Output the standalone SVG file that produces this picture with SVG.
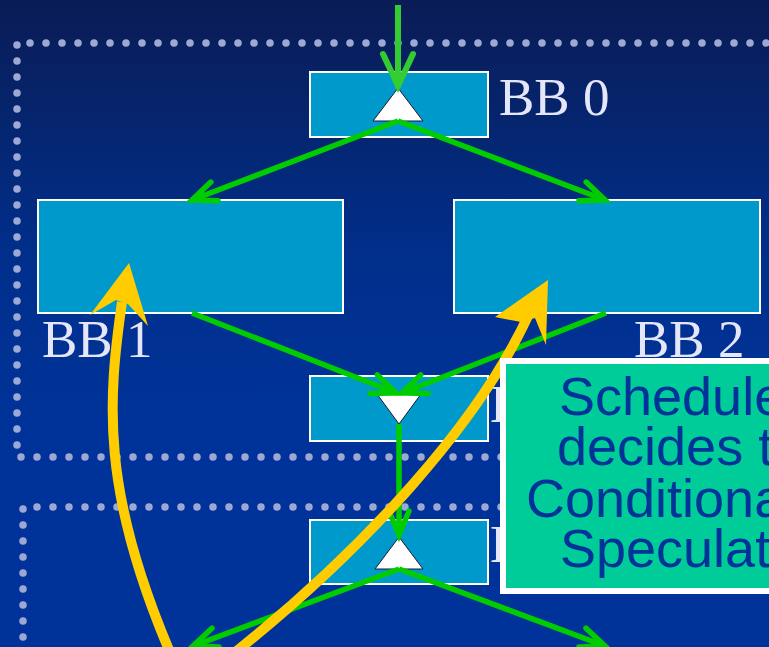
<svg xmlns="http://www.w3.org/2000/svg" width="769" height="647" viewBox="0 0 769 647">
  <defs>
    <linearGradient id="bg" x1="0" y1="0" x2="0" y2="1">
      <stop offset="0" stop-color="#0a1c55"/>
      <stop offset="0.4" stop-color="#002f8c"/>
      <stop offset="0.65" stop-color="#003399"/>
      <stop offset="1" stop-color="#003399"/>
    </linearGradient>
    <clipPath id="leftOfNote">
      <rect x="0" y="0" width="500" height="647"/>
    </clipPath>
    <marker id="chev" markerUnits="userSpaceOnUse" viewBox="-30 -20 40 40" markerWidth="40" markerHeight="40" refX="0" refY="0" orient="auto" overflow="visible">
      <path d="M-24,-10 L0,0 L-24,10" fill="none" stroke="#00cc00" stroke-width="5.5" stroke-linecap="round" stroke-linejoin="miter"/>
    </marker>
    <marker id="chevTop" markerUnits="userSpaceOnUse" viewBox="-40 -25 50 50" markerWidth="50" markerHeight="50" refX="0" refY="0" orient="auto" overflow="visible">
      <path d="M-32,-15 L0,0 L-32,15" fill="none" stroke="#33cc33" stroke-width="6" stroke-linecap="round"/>
    </marker>
  </defs>
  <style>
    .bb { fill: #0099cc; stroke: #ffffff; stroke-width: 2; }
    .tri { fill: #ffffff; stroke: #1a1a33; stroke-width: 1; }
    .lbl { font-family: "Liberation Serif", "Times New Roman", serif; font-size: 53px; fill: #e6e6fa; }
    .dots { stroke: #9da8d4; stroke-width: 7.5; stroke-linecap: round; stroke-dasharray: 0 16; fill: none; }
    .edge { stroke: #00cc00; stroke-width: 5.5; fill: none; marker-end: url(#chev); }
    .hl { stroke: #ffcc00; stroke-width: 10; fill: none; }
    .hlhead { fill: #ffcc00; }
    .note { font-family: "Liberation Sans", Arial, sans-serif; font-size: 54px; fill: #003399; }
  </style>

  <rect x="0" y="0" width="769" height="647" fill="url(#bg)"/>

  <!-- dotted region outlines -->
  <g id="regions">
    <line class="dots" x1="30" y1="43" x2="769" y2="43"/>
    <line class="dots" x1="17" y1="45" x2="17" y2="446"/>
    <line class="dots" x1="21" y1="457" x2="769" y2="457"/>
    <line class="dots" x1="37" y1="507" x2="769" y2="507"/>
    <line class="dots" x1="23" y1="509" x2="23" y2="647"/>
  </g>

  <g id="bb0">
    <rect class="bb" x="310" y="72" width="178" height="65"/>
    <polygon class="tri" points="398,88 423,121 373,121"/>
    <text class="lbl" x="499" y="115">BB 0</text>
  </g>
  <g id="bb1">
    <rect class="bb" x="38" y="200" width="305" height="113"/>
    <text class="lbl" x="42" y="357">BB 1</text>
  </g>
  <g id="bb2">
    <rect class="bb" x="454" y="200" width="306" height="113"/>
    <text class="lbl" x="634" y="357">BB 2</text>
  </g>
  <g id="bb3">
    <rect class="bb" x="310" y="376" width="178" height="65"/>
    <polygon class="tri" points="377,394 421,394 399,424"/>
    <text class="lbl" x="490" y="422" clip-path="url(#leftOfNote)">BB 3</text>
  </g>
  <g id="bb4">
    <rect class="bb" x="310" y="520" width="178" height="64"/>
    <polygon class="tri" points="399,537 423,569 375,569"/>
    <text class="lbl" x="490" y="562" clip-path="url(#leftOfNote)">BB 4</text>
  </g>

  <!-- control-flow edges -->
  <g id="edges">
    <path d="M398,5 L398,86" stroke="#33cc33" stroke-width="6" fill="none" marker-end="url(#chevTop)"/>
    <path class="edge" d="M398,121 L192,200"/>
    <path class="edge" d="M398,121 L605,200"/>
    <path class="edge" d="M192,313 L396,393"/>
    <path class="edge" d="M606,313 L402,393"/>
    <path class="edge" d="M399,424 L399,535"/>
    <path class="edge" d="M399,569 L193,646"/>
    <path class="edge" d="M399,569 L605,646"/>
  </g>

  <!-- code motion arrows -->
  <g id="motion">
    <path class="hl" d="M172,657 C100,490 108,400 122,302"/>
    <polygon class="hlhead" points="129,263 148,326 128,304 116,300 90,315"/>
    <path class="hl" d="M233,654 C370,545 480,420 528,316"/>
    <polygon class="hlhead" points="548,280 546,345 535,318 521,322 495,317"/>
  </g>

  <g id="note">
    <rect x="503" y="361" width="280" height="230" fill="#00cc99" stroke="#ffffff" stroke-width="6"/>
    <text class="note" x="559" y="415">Schedule</text>
    <text class="note" x="557" y="465">decides t</text>
    <text class="note" x="526" y="517">Conditiona</text>
    <text class="note" x="560" y="567">Speculat</text>
  </g>
</svg>
